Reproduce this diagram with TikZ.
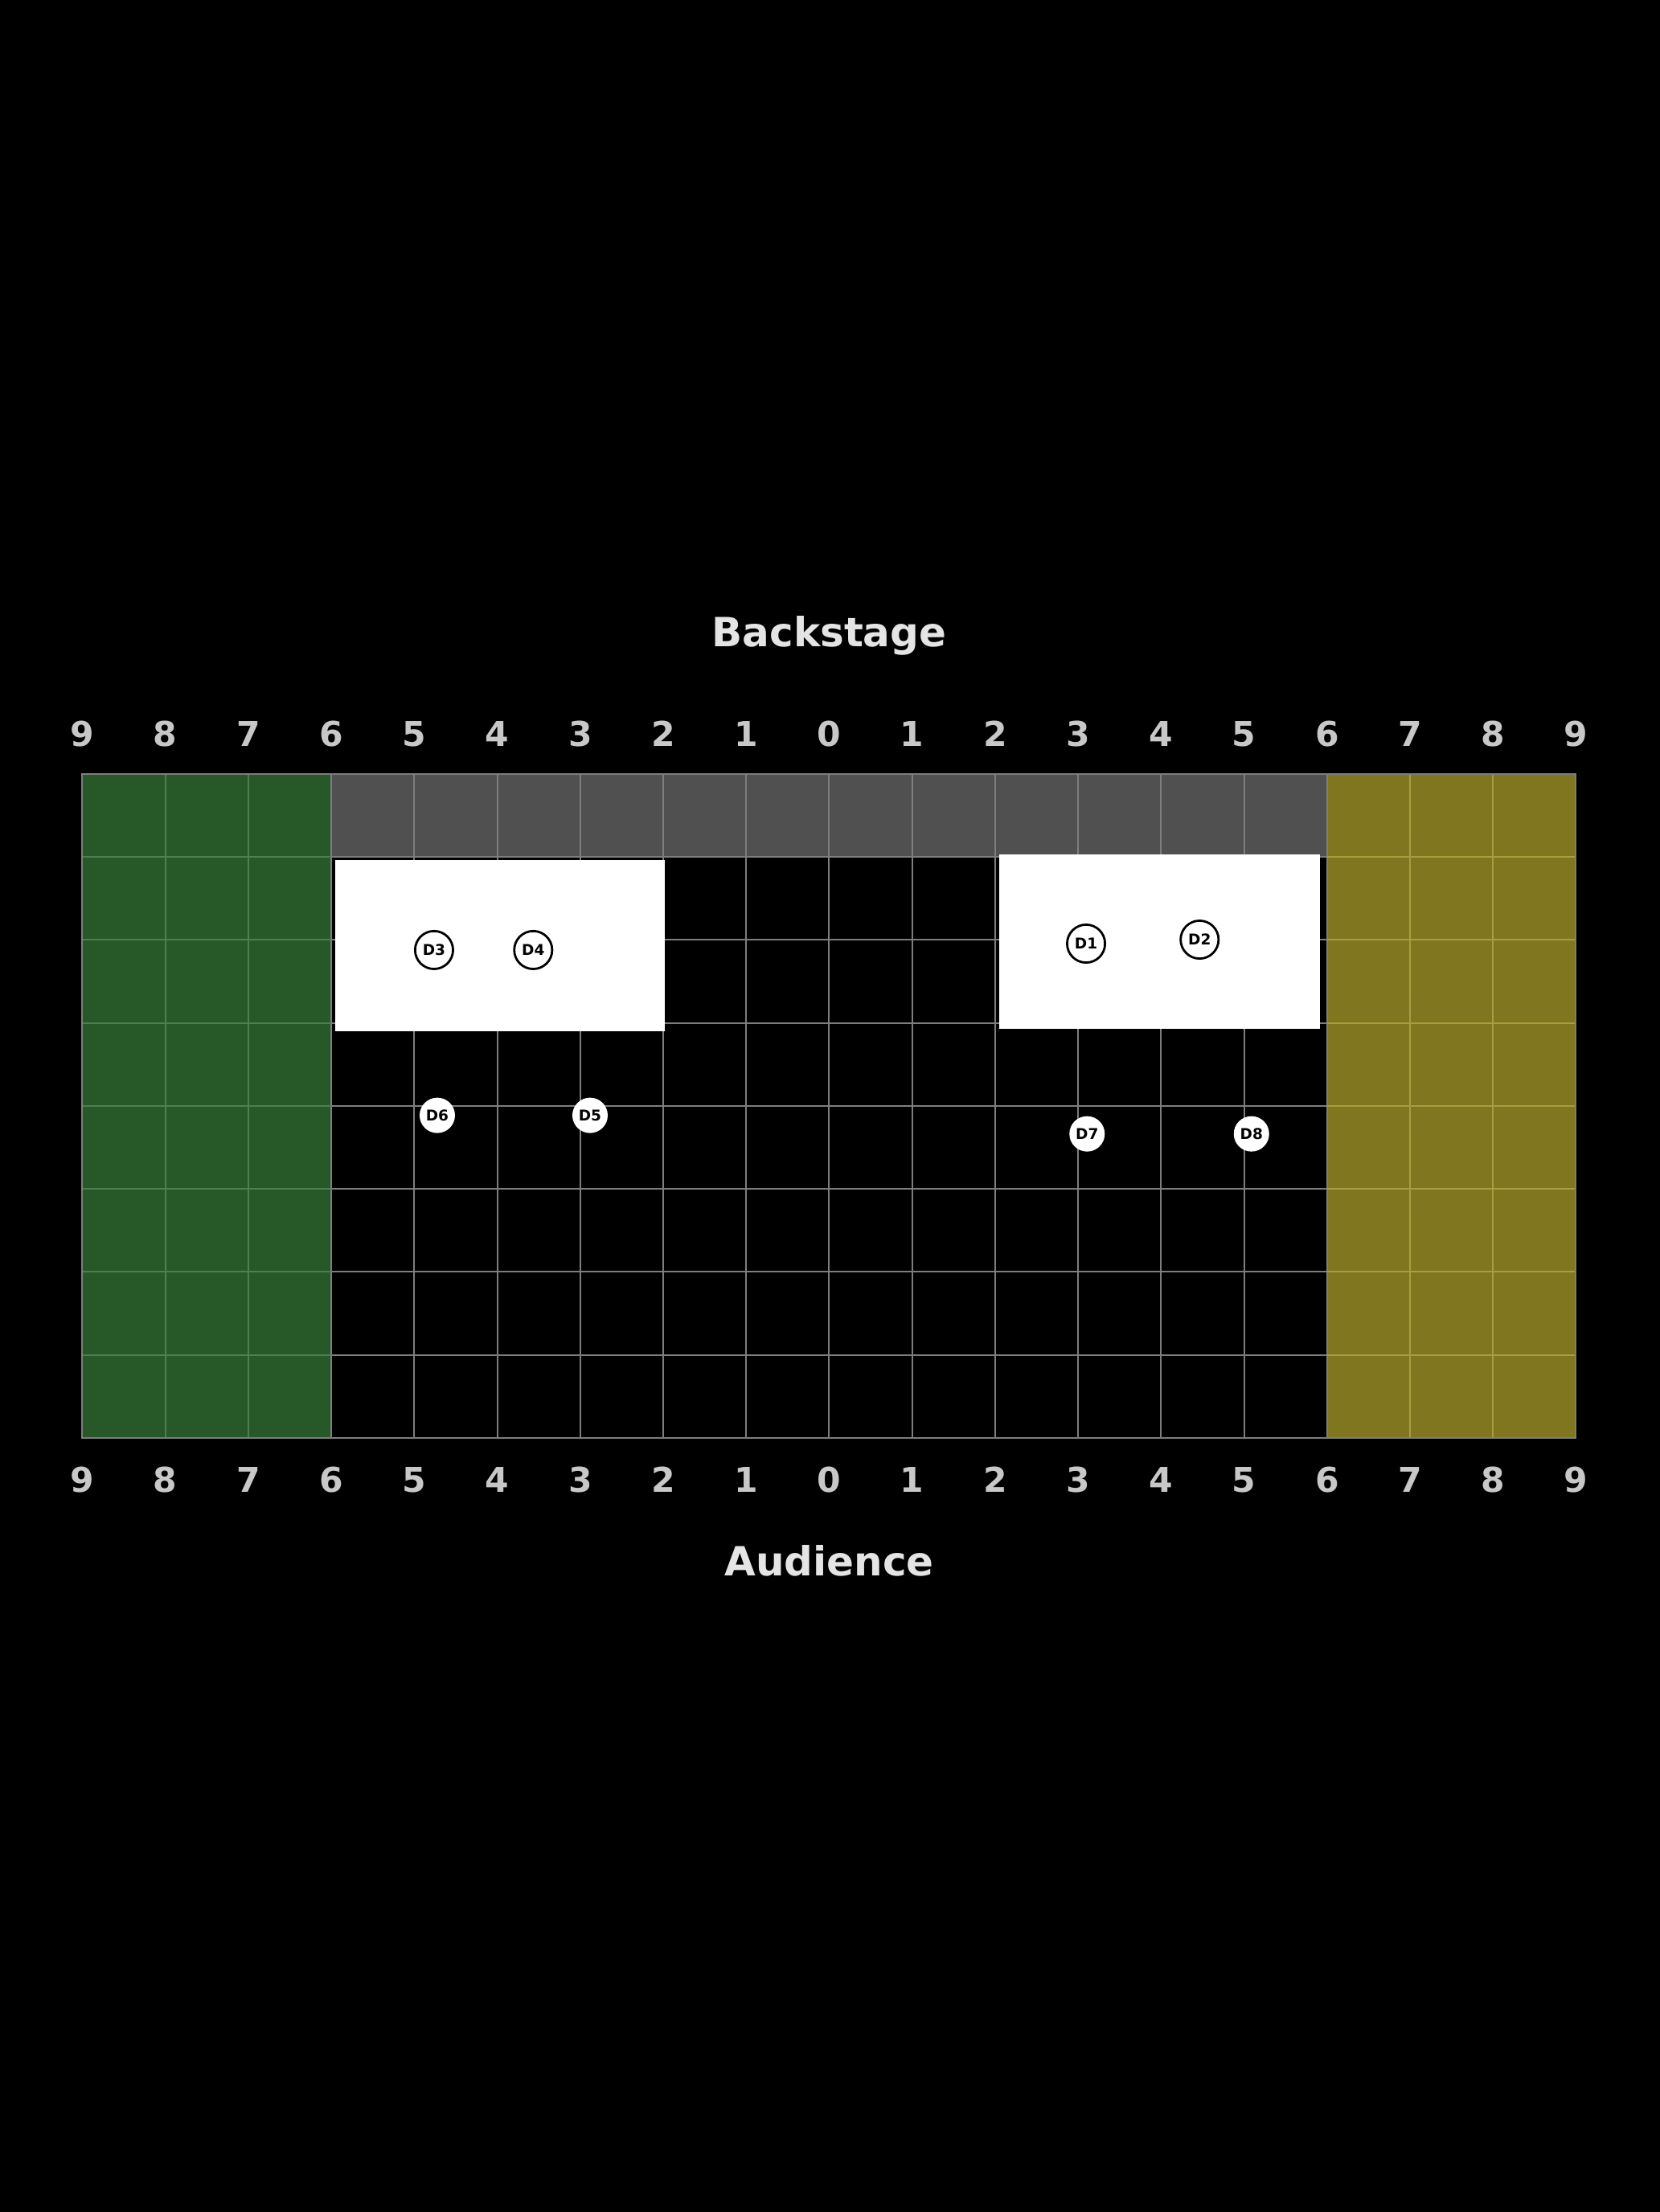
\documentclass[tikz,border=0pt]{standalone}
\usepackage{fontspec}
\setmainfont{DejaVu Sans}
\definecolor{stgreen}{HTML}{265828}
\definecolor{stolive}{HTML}{80761F}
\definecolor{stgray}{HTML}{505050}
\definecolor{mlinec}{HTML}{7E7E7E}
\definecolor{glinec}{HTML}{4E7F50}
\definecolor{ylinec}{HTML}{AA9D40}
\definecolor{numc}{HTML}{C8C8C8}
\definecolor{titlec}{HTML}{E4E4E4}
\begin{document}
\begin{tikzpicture}[x=103.22pt,y=-103.22pt,
  mline/.style={draw=mlinec,line width=2pt},
  gline/.style={draw=glinec,line width=2pt},
  yline/.style={draw=ylinec,line width=2pt},
  numlabel/.style={text=numc,anchor=base,inner sep=0pt,font=\fontsize{42.5}{50}\selectfont\bfseries},
  titlelabel/.style={text=titlec,anchor=base,inner sep=0pt,font=\fontsize{50}{60}\selectfont\bfseries},
  dout/.style={circle,draw=black,line width=2.8pt,fill=white,minimum size=47.2pt,inner sep=0pt,text=black,font=\fontsize{18.5}{22}\selectfont\bfseries},
  dfill/.style={circle,fill=white,minimum size=44pt,inner sep=0pt,text=black,font=\fontsize{18.5}{22}\selectfont\bfseries}]
\useasboundingbox (-0.99302,-9.32959) rectangle (19.00310,17.33191);
\fill[black] (-1.2,-9.5) rectangle (19.2,17.5);
% zones
\fill[stgreen] (0,0) rectangle (3,8);
\fill[stolive] (15,0) rectangle (18,8);
\fill[stgray] (3,0) rectangle (15,1);
% grid lines
\foreach \i in {1,2} \draw[gline] (\i,0) -- (\i,8);
\foreach \i in {3,...,15} \draw[mline] (\i,0) -- (\i,8);
\foreach \i in {16,17} \draw[yline] (\i,0) -- (\i,8);
\foreach \j in {1,...,7} {
  \draw[gline] (0,\j) -- (3,\j);
  \draw[mline] (3,\j) -- (15,\j);
  \draw[yline] (15,\j) -- (18,\j);
}
\draw[mline] (0,0) rectangle (18,8);
% set pieces
\fill[white] (3.047,1.037) rectangle (7.019,3.100);
\fill[white] (11.049,0.969) rectangle (14.915,3.070);
% dancers
\node[dout] (d3) at (4.238,2.121) {D3};
\node[dout] (d4) at (5.433,2.121) {D4};
\node[dout] (d1) at (12.096,2.044) {D1};
\node[dout] (d2) at (13.464,1.996) {D2};
\node[dfill] (d6) at (4.277,4.114) {D6};
\node[dfill] (d5) at (6.118,4.114) {D5};
\node[dfill] (d7) at (12.108,4.337) {D7};
\node[dfill] (d8) at (14.089,4.337) {D8};
% axis numbers
\foreach \i in {0,...,18} {
  \pgfmathtruncatemacro{\n}{abs(9-\i)}
  \node[numlabel] (top\i) at (\i,-0.336) {\n};
  \node[numlabel] (bot\i) at (\i,8.661) {\n};
}
% titles
\node[titlelabel] (backstage) at (9,-1.531) {Backstage};
\node[titlelabel] (audience) at (9,9.659) {Audience};
\end{tikzpicture}
\end{document}
